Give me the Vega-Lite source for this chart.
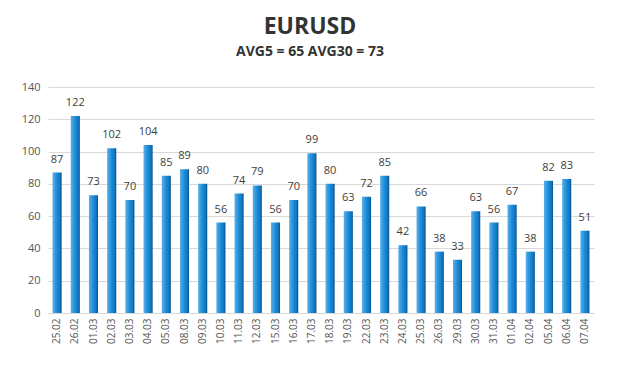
{
  "$schema": "https://vega.github.io/schema/vega-lite/v6.json",
  "width": 546,
  "height": 226,
  "autosize": {"type": "none"},
  "padding": {"left": 48, "right": 26, "top": 87, "bottom": 79},
  "background": "white",
  "title": {
    "text": "EURUSD",
    "subtitle": "AVG5 = 65 AVG30 = 73",
    "anchor": "middle",
    "dx": -11,
    "offset": 22,
    "font": "Open Sans",
    "fontSize": 23,
    "fontWeight": "bold",
    "color": "#333333",
    "subtitleFont": "Open Sans",
    "subtitleFontSize": 14,
    "subtitleFontWeight": "bold",
    "subtitleColor": "#333333",
    "subtitlePadding": 6
  },
  "data": {
    "values": [
      {"date": "25.02", "value": 87},
      {"date": "26.02", "value": 122},
      {"date": "01.03", "value": 73},
      {"date": "02.03", "value": 102},
      {"date": "03.03", "value": 70},
      {"date": "04.03", "value": 104},
      {"date": "05.03", "value": 85},
      {"date": "08.03", "value": 89},
      {"date": "09.03", "value": 80},
      {"date": "10.03", "value": 56},
      {"date": "11.03", "value": 74},
      {"date": "12.03", "value": 79},
      {"date": "15.03", "value": 56},
      {"date": "16.03", "value": 70},
      {"date": "17.03", "value": 99},
      {"date": "18.03", "value": 80},
      {"date": "19.03", "value": 63},
      {"date": "22.03", "value": 72},
      {"date": "23.03", "value": 85},
      {"date": "24.03", "value": 42},
      {"date": "25.03", "value": 66},
      {"date": "26.03", "value": 38},
      {"date": "29.03", "value": 33},
      {"date": "30.03", "value": 63},
      {"date": "31.03", "value": 56},
      {"date": "01.04", "value": 67},
      {"date": "02.04", "value": 38},
      {"date": "05.04", "value": 82},
      {"date": "06.04", "value": 83},
      {"date": "07.04", "value": 51}
    ]
  },
  "encoding": {
    "x": {
      "field": "date",
      "type": "ordinal",
      "sort": null,
      "scale": {"paddingInner": 0.5, "paddingOuter": 0.25},
      "axis": {
        "title": null,
        "labelAngle": 270,
        "labelFont": "Open Sans",
        "labelFontSize": 10,
        "labelColor": "#555555",
        "ticks": false,
        "domain": true,
        "domainColor": "#d9d9d9",
        "labelPadding": 5
      }
    },
    "y": {
      "field": "value",
      "type": "quantitative",
      "scale": {"domain": [0, 140]},
      "axis": {
        "title": null,
        "values": [0, 20, 40, 60, 80, 100, 120, 140],
        "labelFont": "Open Sans",
        "labelFontSize": 11,
        "labelColor": "#555555",
        "ticks": false,
        "domain": false,
        "gridColor": "#d9d9d9",
        "labelPadding": 8
      }
    }
  },
  "layer": [
    {
      "mark": {
        "type": "bar",
        "color": {
          "gradient": "linear",
          "x1": 0, "y1": 0, "x2": 1, "y2": 0,
          "stops": [
            {"offset": 0, "color": "#5ab0ea"},
            {"offset": 0.5, "color": "#1b8ad6"},
            {"offset": 0.8, "color": "#0f78c2"},
            {"offset": 1, "color": "#0a4f8a"}
          ]
        }
      }
    },
    {
      "mark": {
        "type": "text",
        "baseline": "bottom",
        "dy": -8,
        "font": "Open Sans",
        "fontSize": 11,
        "color": "#404040"
      },
      "encoding": {"text": {"field": "value", "type": "quantitative"}}
    }
  ],
  "config": {"view": {"stroke": null}}
}
